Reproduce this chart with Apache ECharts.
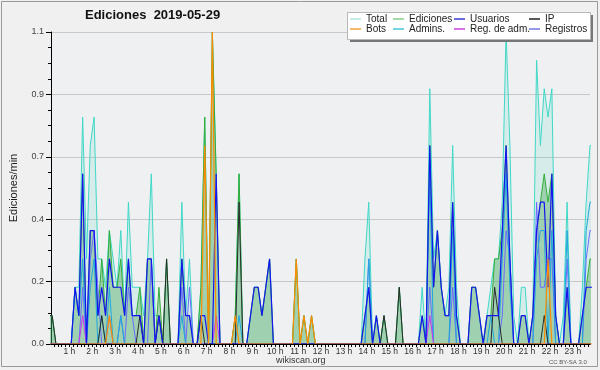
<!DOCTYPE html>
<html><head><meta charset="utf-8">
<script src="https://cdn.jsdelivr.net/npm/echarts@6/dist/echarts.min.js"></script>
<style>html,body{margin:0;padding:0;background:#f0f0f0}#c{width:600px;height:370px}</style>
</head><body><div id="c"></div>
<script>
// bin centres, minutes after midnight (10-minute bins)
const times = [5,15,25,35,45,55,65,75,85,95,105,115,125,135,145,155,165,175,185,195,205,215,225,235,
245,255,265,275,285,295,305,315,325,335,345,355,365,375,385,395,405,415,425,435,445,455,465,475,
485,495,505,515,525,535,545,555,565,575,585,595,605,615,625,635,645,655,665,675,685,695,705,715,
725,735,745,755,765,775,785,795,805,815,825,835,845,855,865,875,885,895,905,915,925,935,945,955,
965,975,985,995,1005,1015,1025,1035,1045,1055,1065,1075,1085,1095,1105,1115,1125,1135,1145,1155,1165,1175,1185,1195,
1205,1215,1225,1235,1245,1255,1265,1275,1285,1295,1305,1315,1325,1335,1345,1355,1365,1375,1385,1395,1405,1415,1425,1435];

const total = [
0.1,0.1,0,0,0,0,0,0.2,0.2,0.8,0.3,0.7,
0.8,0.3,0.3,0.2,0.4,0.3,0.2,0.4,0.1,0.5,0.2,0.2,
0.2,0.1,0.3,0.6,0.1,0.1,0,0.3,0,0,0,0.5,
0.1,0.3,0,0,0.2,0.8,0,1.1,0.6,0,0,0,
0,0.1,0.6,0,0,0.1,0.2,0.2,0.1,0.2,0.3,0,
0,0,0,0,0,0.3,0,0.1,0,0.1,0,0,
0,0,0,0,0,0,0,0,0,0,0,0.3,
0.5,0,0.1,0,0.1,0,0,0,0.2,0,0,0,
0,0,0.2,0,0.9,0.3,0.4,0.2,0.1,0.2,0.7,0.2,
0,0,0,0.2,0.2,0.1,0,0.1,0.2,0.3,0.3,0.5,
1.1,0.7,0.1,0,0.2,0.2,0,0.1,1.0,0.7,0.9,0.8,
0.9,0.1,0,0.1,0.5,0,0,0,0.2,0.5,0.7,0.7];

const ediciones = [
0.1,0.1,0,0,0,0,0,0.2,0.1,0.6,0,0.4,
0.4,0.1,0.3,0.1,0.4,0.2,0.2,0.3,0.1,0.3,0.1,0.1,
0.2,0,0.3,0.3,0,0.2,0,0.3,0,0,0,0.3,
0.1,0.1,0,0,0.2,0.8,0,1.1,0.6,0,0,0,
0,0.1,0.6,0,0,0.1,0.2,0.2,0.1,0.2,0.3,0,
0,0,0,0,0,0.3,0,0.1,0,0.1,0,0,
0,0,0,0,0,0,0,0,0,0,0,0.1,
0.2,0,0.1,0,0.1,0,0,0,0.2,0,0,0,
0,0,0.1,0,0.7,0.2,0.4,0.2,0.1,0.1,0.5,0.1,
0,0,0,0.2,0.2,0.1,0,0.1,0.1,0.3,0.3,0.4,
0.7,0.3,0,0,0.1,0.1,0,0.1,0.4,0.5,0.6,0.5,
0.6,0.1,0,0,0.2,0,0,0,0.1,0.2,0.3,0.3];

const usuarios = [
0,0,0,0,0,0,0,0.2,0.1,0.6,0,0.4,
0.4,0.1,0.2,0.1,0.3,0.2,0.2,0.2,0.1,0.3,0.1,0.1,
0.1,0,0.3,0.3,0,0.1,0,0,0,0,0,0.3,
0.1,0.1,0,0,0.1,0.1,0,0,0.6,0,0,0,
0,0,0,0,0,0.1,0.2,0.2,0.1,0.2,0.3,0,
0,0,0,0,0,0,0,0,0,0,0,0,
0,0,0,0,0,0,0,0,0,0,0,0.1,
0.2,0,0.1,0,0,0,0,0,0,0,0,0,
0,0,0.1,0,0.7,0.2,0.4,0.2,0.1,0.1,0.5,0.1,
0,0,0,0.2,0.2,0.1,0,0.1,0.1,0.1,0.1,0.4,
0.7,0.3,0,0,0.1,0.1,0,0.1,0.4,0.5,0.5,0.2,
0.6,0.1,0,0,0.2,0,0,0,0.1,0.2,0.2,0.2];

const ip = [
0.1,0.1,0,0,0,0,0,0,0,0,0,0,
0,0,0.1,0,0,0,0,0,0,0,0,0,
0.1,0,0,0,0,0.1,0,0.3,0,0,0,0,
0,0,0,0,0.1,0,0,0,0,0,0,0,
0,0,0.5,0,0,0,0,0,0,0,0,0,
0,0,0,0,0,0,0,0,0,0,0,0,
0,0,0,0,0,0,0,0,0,0,0,0,
0,0,0,0,0.1,0,0,0,0.2,0,0,0,
0,0,0,0,0,0,0,0,0,0,0,0,
0,0,0,0,0,0,0,0,0,0.2,0.1,0,
0,0,0,0,0,0,0,0,0,0,0.1,0,
0,0,0,0,0,0,0,0,0,0,0,0];

const bots = [
0,0,0,0,0,0,0,0,0,0,0,0,
0,0,0,0,0.1,0,0,0,0,0,0,0,
0,0,0,0,0,0,0,0,0,0,0,0,
0,0,0,0,0,0.7,0,1.1,0,0,0,0,
0,0.1,0,0,0,0,0,0,0,0,0,0,
0,0,0,0,0,0.3,0,0.1,0,0.1,0,0,
0,0,0,0,0,0,0,0,0,0,0,0,
0,0,0,0,0,0,0,0,0,0,0,0,
0,0,0,0,0,0,0,0,0,0,0,0,
0,0,0,0,0,0,0,0,0,0,0,0,
0,0,0,0,0,0,0,0,0,0,0,0.3,
0,0,0,0,0,0,0,0,0,0,0,0];

const admins = [
0,0,0,0,0,0,0,0.2,0.1,0.3,0,0.2,
0.3,0,0.1,0,0.2,0,0,0.1,0,0,0,0,
0,0,0,0,0,0,0,0,0,0,0,0.1,
0,0,0,0,0,0,0,0,0,0,0,0,
0,0,0.1,0,0,0,0,0,0,0,0,0,
0,0,0,0,0,0,0,0,0,0,0,0,
0,0,0,0,0,0,0,0,0,0,0,0,
0.3,0,0,0,0,0,0,0,0,0,0,0,
0,0,0,0,0.6,0,0,0,0,0,0.4,0,
0,0,0,0,0,0,0,0,0.1,0,0,0.3,
0.6,0.2,0,0,0,0,0,0,0.3,0.4,0.4,0,
0.4,0,0,0,0.4,0,0,0,0,0.4,0.5,0.5];

const regAdm = [
0,0,0,0,0,0,0,0,0,0.1,0,0,
0,0,0,0,0,0,0,0,0,0,0,0,
0,0,0,0,0,0,0,0,0,0,0,0,
0,0,0,0,0,0,0,0,0.1,0,0,0,
0,0,0,0,0,0,0,0,0,0,0,0,
0,0,0,0,0,0,0,0,0,0,0,0,
0,0,0,0,0,0,0,0,0,0,0,0,
0,0,0,0,0,0,0,0,0,0,0,0,
0,0,0,0,0.1,0,0,0,0,0,0,0,
0,0,0,0,0,0,0,0,0,0,0,0,
0,0,0,0,0,0,0,0,0,0,0,0,
0,0,0,0,0,0,0,0,0,0,0,0];

const registros = [
0,0,0,0,0,0,0,0,0,0.2,0,0.3,
0.4,0.2,0,0,0.1,0,0,0.1,0,0.2,0.1,0,
0,0,0,0.3,0,0,0,0,0,0,0,0.2,
0,0.2,0,0,0,0,0,0,0,0,0,0,
0,0,0,0,0,0,0,0,0,0,0,0,
0,0,0,0,0,0,0,0,0,0,0,0,
0,0,0,0,0,0,0,0,0,0,0,0,
0.3,0,0,0,0,0,0,0,0,0,0,0,
0,0,0,0,0.2,0,0,0,0,0,0.2,0,
0,0,0,0,0,0,0,0,0,0,0,0.1,
0.4,0.3,0,0,0,0,0,0,0.5,0.2,0.2,0.3,
0.3,0,0,0,0.3,0,0,0,0,0.3,0.4,0.4];

const hourTicks = [60,120,180,240,300,360,420,480,540,600,660,720,780,840,900,960,1020,1080,1140,1200,1260,1320,1380];
const minorTicks = [];
for (let m = 20; m <= 1420; m += 10) minorTicks.push(m);

const FF = 'Liberation Sans, Arial, sans-serif';
function pts(arr){ return times.map((t,k)=>[t, arr[k]]); }
function line(name, arr, color, extra){
  return Object.assign({
    name, type:'line', data: pts(arr), showSymbol:false, symbol:'none',
    color, lineStyle:{color, width:1}, animation:false, clip:true
  }, extra||{});
}

const series = [
  line('Total', total, '#3fd8c6', {areaStyle:{color:'rgba(64,216,200,0.2)', origin:'start'}}),
  line('Ediciones', ediciones, '#35ad3a', {areaStyle:{color:'rgba(60,160,70,0.5)', origin:'start'}}),
  line('Registros', registros, '#6a6aff'),
  line('Admins.', admins, '#1ea6dc'),
  line('Reg. de adm.', regAdm, '#cc33ee'),
  line('IP', ip, '#2a2a2a'),
  line('Usuarios', usuarios, '#1414f0', {lineStyle:{color:'#1414f0', width:1.2}}),
  line('Bots', bots, '#ff8c00', {lineStyle:{color:'#ff8c00', width:1.2}})
];

function legendCol(left, items){
  return {
    show:true, orient:'vertical', left, top:14, padding:0, itemGap:0,
    itemWidth:11, itemHeight:1.5, icon:'rect', z:60, selectedMode:false,
    textStyle:{fontSize:10, lineHeight:10, color:'#222', fontFamily:FF},
    data: items.map(([n,c])=>({name:n, itemStyle:{color:c}, icon:'rect'}))
  };
}

const option = {
  backgroundColor:'#f0f0f0',
  animation:false,
  textStyle:{fontFamily:FF},
  title:{text:'Ediciones  2019-05-29', left:85, top:9, padding:0,
    textStyle:{fontSize:13, fontWeight:'bold', color:'#111', fontFamily:FF}},
  grid:{left:46, right:10, top:32, bottom:26, show:true, backgroundColor:'#eef0f2', borderWidth:0},
  xAxis:{type:'value', min:12, max:1425, z:10,
    axisLine:{show:true, onZero:false, lineStyle:{color:'#000', width:1}},
    axisTick:{show:true, customValues:minorTicks, length:3, lineStyle:{color:'#000'}},
    axisLabel:{customValues:hourTicks, formatter:v=>(v/60)+' h', fontSize:8.5, color:'#333', margin:3, fontFamily:FF},
    splitLine:{show:false}},
  yAxis:{type:'value', min:0, max:1.1, interval:0.22,
    name:'Ediciones/min', nameLocation:'middle', nameGap:32,
    nameTextStyle:{fontSize:11, color:'#222', fontFamily:FF},
    axisLine:{show:true, lineStyle:{color:'#000'}},
    axisTick:{show:true, length:5, lineStyle:{color:'#000'}},
    minorTick:{show:true, splitNumber:4, length:3, lineStyle:{color:'#000'}},
    axisLabel:{formatter:v=>v.toFixed(1), fontSize:9, color:'#444', margin:7, fontFamily:FF},
    splitLine:{show:true, lineStyle:{color:'#c8c8c8', width:1}}},
  legend:[
    legendCol(350, [['Total','#b2e6df'],['Bots','#f4a23a']]),
    legendCol(393, [['Ediciones','#86cc86'],['Admins.','#46c6da']]),
    legendCol(454, [['Usuarios','#3a3ad6'],['Reg. de adm.','#cc44dd']]),
    legendCol(529, [['IP','#222222'],['Registros','#7474e6']])
  ],
  graphic:[
    {type:'rect', z:50, shape:{x:1.5, y:1.5, width:596, height:365}, style:{fill:null, stroke:'#9a9a9a', lineWidth:1}, silent:true},
    {type:'rect', z:50, shape:{x:350, y:15, width:243, height:27}, style:{fill:'#777'}, silent:true},
    {type:'rect', z:51, shape:{x:347.5, y:12.5, width:243, height:27}, style:{fill:'#ffffff', stroke:'#b8b8b8', lineWidth:1}, silent:true},
    {type:'text', z:50, left:276, top:356, style:{text:'wikiscan.org', fontSize:9, fill:'#333', fontFamily:FF}},
    {type:'text', z:50, left:549, top:359, style:{text:'CC BY-SA 3.0', fontSize:6, fill:'#555', fontFamily:FF}}
  ],
  series
};

const chart = echarts.init(document.getElementById('c'), null, {renderer:'canvas'});
chart.setOption(option);
</script>
</body></html>
